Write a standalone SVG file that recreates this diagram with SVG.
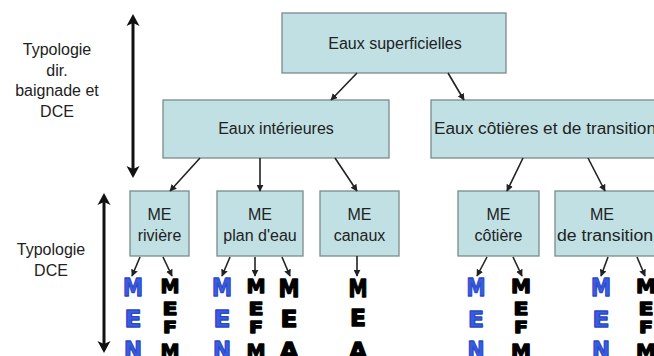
<svg xmlns="http://www.w3.org/2000/svg" width="654" height="356" viewBox="0 0 654 356">
<defs>
<style>
.box{fill:#c0e0e3;stroke:#7c8a8a;stroke-width:1.3}
.t{font-family:"Liberation Sans",Arial,sans-serif;font-size:16px;fill:#222;text-anchor:middle}
.c{stroke:#222;stroke-width:1.6;fill:none;marker-end:url(#ah)}
.big{stroke:#111;stroke-width:3;fill:none}
.hd{fill:#111}
.L{font-family:"DejaVu Sans",sans-serif;font-weight:bold;text-anchor:middle}
.b{fill:#3a5ce0;stroke:#2a48c8;stroke-width:1.3;stroke-linejoin:round}
.k{fill:#000;stroke:#000;stroke-width:1.3;stroke-linejoin:round}
</style>
<marker id="ah" viewBox="0 0 10 10" refX="9" refY="5" markerWidth="7" markerHeight="7" markerUnits="userSpaceOnUse" orient="auto">
<path d="M0,0 L10,5 L0,10 Z" fill="#222"/>
</marker>
</defs>
<rect width="654" height="356" fill="#fff"/>

<g id="side-labels">
<text class="t" x="57" y="55">Typologie</text>
<text class="t" x="57" y="76">dir.</text>
<text class="t" x="57" y="96">baignade et</text>
<text class="t" x="57" y="117">DCE</text>
<text class="t" x="51" y="255">Typologie</text>
<text class="t" x="51" y="276">DCE</text>
</g>

<g id="double-arrows">
<line class="big" x1="133" y1="22" x2="133" y2="170"/>
<path class="hd" d="M133,14 L139.5,26 L133,23 L126.5,26 Z"/>
<path class="hd" d="M133,178 L139.5,166 L133,169 L126.5,166 Z"/>
<line class="big" x1="104" y1="201" x2="104" y2="345"/>
<path class="hd" d="M104,193 L110.5,205 L104,202 L97.5,205 Z"/>
<path class="hd" d="M104,353 L110.5,341 L104,344 L97.5,341 Z"/>
</g>

<g id="n-superficielles">
<rect class="box" x="282" y="13" width="224" height="60"/>
<text class="t" x="395" y="49">Eaux superficielles</text>
</g>
<g id="n-interieures">
<rect class="box" x="163" y="100" width="226" height="58"/>
<text class="t" x="276" y="134">Eaux intérieures</text>
</g>
<g id="n-cotieres">
<rect class="box" x="431" y="100" width="240" height="58"/>
<text class="t" x="434" y="134" style="text-anchor:start" textLength="222" lengthAdjust="spacingAndGlyphs">Eaux côtières et de transition</text>
</g>
<g id="n-riviere">
<rect class="box" x="130" y="191" width="59" height="65"/>
<text class="t" x="159.5" y="220">ME</text>
<text class="t" x="159.5" y="241">rivière</text>
</g>
<g id="n-plandeau">
<rect class="box" x="217" y="191" width="86" height="65"/>
<text class="t" x="260" y="220">ME</text>
<text class="t" x="260" y="241">plan d'eau</text>
</g>
<g id="n-canaux">
<rect class="box" x="320" y="191" width="79" height="65"/>
<text class="t" x="359.5" y="220">ME</text>
<text class="t" x="359.5" y="241">canaux</text>
</g>
<g id="n-cotiere">
<rect class="box" x="458" y="191" width="81" height="65"/>
<text class="t" x="498.5" y="220">ME</text>
<text class="t" x="498.5" y="241">côtière</text>
</g>
<g id="n-transition">
<rect class="box" x="555" y="191" width="115" height="65"/>
<text class="t" x="602" y="220">ME</text>
<text class="t" x="605" y="241" textLength="96" lengthAdjust="spacingAndGlyphs">de transition</text>
</g>

<g id="connectors">
<line class="c" x1="357" y1="73" x2="331" y2="100"/>
<line class="c" x1="448" y1="73" x2="464" y2="100"/>
<line class="c" x1="200" y1="158" x2="170" y2="191"/>
<line class="c" x1="260" y1="158" x2="260" y2="191"/>
<line class="c" x1="335" y1="158" x2="357" y2="191"/>
<line class="c" x1="523" y1="158" x2="507" y2="191"/>
<line class="c" x1="588" y1="158" x2="605" y2="191"/>
<line class="c" x1="140" y1="257" x2="132" y2="276"/>
<line class="c" x1="163" y1="257" x2="172" y2="276"/>
<line class="c" x1="230" y1="257" x2="222" y2="276"/>
<line class="c" x1="255" y1="257" x2="255" y2="276"/>
<line class="c" x1="282" y1="257" x2="290" y2="276"/>
<line class="c" x1="357" y1="256" x2="357" y2="276"/>
<line class="c" x1="487" y1="257" x2="477" y2="276"/>
<line class="c" x1="513" y1="257" x2="522" y2="276"/>
<line class="c" x1="608" y1="257" x2="601" y2="276"/>
<line class="c" x1="637" y1="257" x2="645" y2="276"/>
</g>

<g id="codes">
<g class="L b">
<text x="133" y="296" font-size="24" textLength="20" lengthAdjust="spacingAndGlyphs">M</text>
<text x="133" y="327" font-size="23" textLength="17" lengthAdjust="spacingAndGlyphs">E</text>
<text x="133" y="358" font-size="23" textLength="18" lengthAdjust="spacingAndGlyphs">N</text>
<text x="222" y="296" font-size="24" textLength="20" lengthAdjust="spacingAndGlyphs">M</text>
<text x="222" y="327" font-size="23" textLength="17" lengthAdjust="spacingAndGlyphs">E</text>
<text x="222" y="358" font-size="23" textLength="18" lengthAdjust="spacingAndGlyphs">N</text>
<text x="476" y="296" font-size="24" textLength="19" lengthAdjust="spacingAndGlyphs">M</text>
<text x="476" y="327" font-size="22" textLength="16" lengthAdjust="spacingAndGlyphs">E</text>
<text x="476" y="358" font-size="23" textLength="17" lengthAdjust="spacingAndGlyphs">N</text>
<text x="601" y="296" font-size="24" textLength="20" lengthAdjust="spacingAndGlyphs">M</text>
<text x="601" y="327" font-size="22" textLength="17" lengthAdjust="spacingAndGlyphs">E</text>
<text x="601" y="358" font-size="23" textLength="18" lengthAdjust="spacingAndGlyphs">N</text>
</g>
<g class="L k">
<text x="170" y="293" font-size="20" textLength="19" lengthAdjust="spacingAndGlyphs">M</text>
<text x="170" y="315" font-size="17" textLength="15" lengthAdjust="spacingAndGlyphs">E</text>
<text x="170" y="333" font-size="16" textLength="14" lengthAdjust="spacingAndGlyphs">F</text>
<text x="170" y="358" font-size="20" textLength="19" lengthAdjust="spacingAndGlyphs">M</text>
<text x="256" y="293" font-size="20" textLength="19" lengthAdjust="spacingAndGlyphs">M</text>
<text x="256" y="315" font-size="17" textLength="15" lengthAdjust="spacingAndGlyphs">E</text>
<text x="256" y="333" font-size="16" textLength="14" lengthAdjust="spacingAndGlyphs">F</text>
<text x="256" y="358" font-size="20" textLength="19" lengthAdjust="spacingAndGlyphs">M</text>
<text x="521" y="293" font-size="20" textLength="20" lengthAdjust="spacingAndGlyphs">M</text>
<text x="521" y="315" font-size="17" textLength="15" lengthAdjust="spacingAndGlyphs">E</text>
<text x="521" y="333" font-size="16" textLength="14" lengthAdjust="spacingAndGlyphs">F</text>
<text x="521" y="358" font-size="20" textLength="20" lengthAdjust="spacingAndGlyphs">M</text>
<text x="646" y="293" font-size="20" textLength="20" lengthAdjust="spacingAndGlyphs">M</text>
<text x="646" y="315" font-size="17" textLength="15" lengthAdjust="spacingAndGlyphs">E</text>
<text x="646" y="333" font-size="16" textLength="14" lengthAdjust="spacingAndGlyphs">F</text>
<text x="646" y="358" font-size="20" textLength="20" lengthAdjust="spacingAndGlyphs">M</text>
<text x="289" y="297" font-size="24" textLength="21" lengthAdjust="spacingAndGlyphs">M</text>
<text x="289" y="327" font-size="23" textLength="17" lengthAdjust="spacingAndGlyphs">E</text>
<text x="289" y="360" font-size="24" textLength="20" lengthAdjust="spacingAndGlyphs">A</text>
<text x="358" y="297" font-size="24" textLength="19" lengthAdjust="spacingAndGlyphs">M</text>
<text x="358" y="326" font-size="23" textLength="16" lengthAdjust="spacingAndGlyphs">E</text>
<text x="358" y="360" font-size="24" textLength="19" lengthAdjust="spacingAndGlyphs">A</text>
</g>
</g>
</svg>
